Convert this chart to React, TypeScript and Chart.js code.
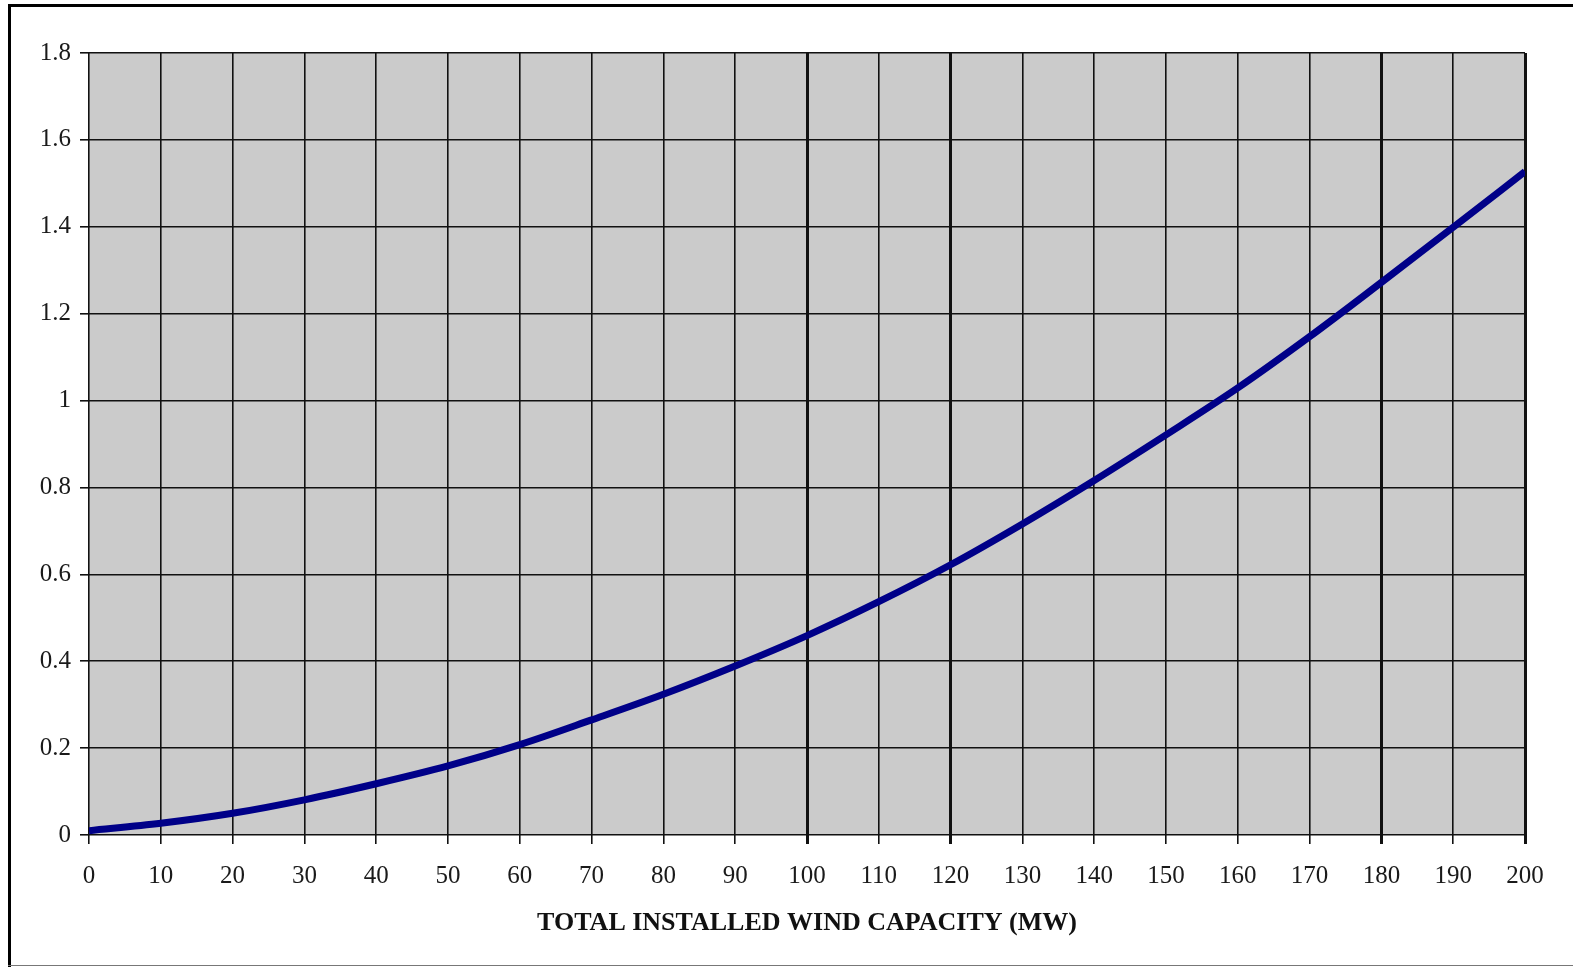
import React, { useEffect, useRef } from "react";
import { Chart, registerables } from "chart.js";

Chart.register(...registerables);

const capacityMW: number[] = [0, 10, 20, 30, 40, 50, 60, 70, 80, 90, 100, 110, 120, 130, 140, 150, 160, 170, 180, 190, 200];
const values: number[] = [0.01, 0.027, 0.05, 0.081, 0.118, 0.159, 0.208, 0.265, 0.324, 0.389, 0.459, 0.537, 0.622, 0.716, 0.816, 0.921, 1.029, 1.147, 1.272, 1.399, 1.527];
const xTitle = "TOTAL INSTALLED WIND CAPACITY (MW)";
const yMin = 0;
const yMax = 1.8;
const yStep = 0.2;
const xMin = 0;
const xMax = 200;
const xStep = 10;
const heavyGridX: number[] = [100, 120, 180, 200];

const W = 1573;
const H = 967;
const SERIF = "'Liberation Serif', 'Times New Roman', serif";

const plotBg = {
  id: "plotBg",
  beforeDraw(chart: any) {
    const { ctx, chartArea } = chart;
    if (!chartArea) return;
    ctx.save();
    ctx.fillStyle = "#cbcbcb";
    ctx.fillRect(chartArea.left, chartArea.top, chartArea.right - chartArea.left, chartArea.bottom - chartArea.top);
    ctx.restore();
  },
};

export default function App() {
  const ref = useRef<HTMLCanvasElement | null>(null);

  useEffect(() => {
    if (!ref.current) return;
    const chart = new Chart(ref.current, {
      type: "line",
      data: {
        datasets: [
          {
            data: capacityMW.map((x, i) => ({ x, y: values[i] })),
            borderColor: "#000088",
            borderWidth: 7,
            pointRadius: 0,
            cubicInterpolationMode: "monotone",
            fill: false,
          },
        ],
      },
      options: {
        responsive: false,
        animation: false,
        layout: { padding: { top: 53, right: 48, left: 0, bottom: 0 } },
        plugins: { legend: { display: false }, tooltip: { enabled: false } },
        scales: {
          x: {
            type: "linear",
            min: xMin,
            max: xMax,
            afterFit(scale: any) {
              scale.height = H - 835;
            },
            ticks: {
              stepSize: xStep,
              color: "#1a1a1a",
              font: { family: SERIF, size: 25 },
              padding: 17,
              maxRotation: 0,
              autoSkip: false,
            },
            grid: {
              color: "#111",
              tickColor: "#111",
              tickLength: 9,
              lineWidth: (c: any) => (c.tick && heavyGridX.includes(c.tick.value) ? 3 : 1.6),
            },
            border: { display: false },
            title: {
              display: true,
              text: xTitle,
              color: "#111",
              font: { family: SERIF, size: 26, weight: "bold" },
              padding: { top: 0, bottom: 28 },
            },
          },
          y: {
            type: "linear",
            min: yMin,
            max: yMax,
            afterFit(scale: any) {
              scale.width = 89;
            },
            ticks: {
              stepSize: yStep,
              color: "#1a1a1a",
              font: { family: SERIF, size: 25 },
              padding: 9,
              callback: (v: any) => String(Math.round(Number(v) * 10) / 10),
            },
            grid: {
              color: "#111",
              tickColor: "#111",
              tickLength: 9,
              lineWidth: 1.6,
            },
            border: { display: false },
          },
        },
      },
      plugins: [plotBg],
    });
    return () => chart.destroy();
  }, []);

  return (
    <div style={{ position: "fixed", left: 0, top: 0, width: W, height: H, background: "#fff" }}>
      <canvas ref={ref} width={W} height={H} style={{ position: "absolute", left: 0, top: 0 }} />
      <div style={{ position: "absolute", left: 8, top: 4, width: W - 8, height: 3, background: "#000" }} />
      <div style={{ position: "absolute", left: 8, top: 4, width: 3, height: H - 4, background: "#000" }} />
      <div style={{ position: "absolute", left: 8, top: H - 2, width: W - 8, height: 1, background: "#777" }} />
    </div>
  );
}
